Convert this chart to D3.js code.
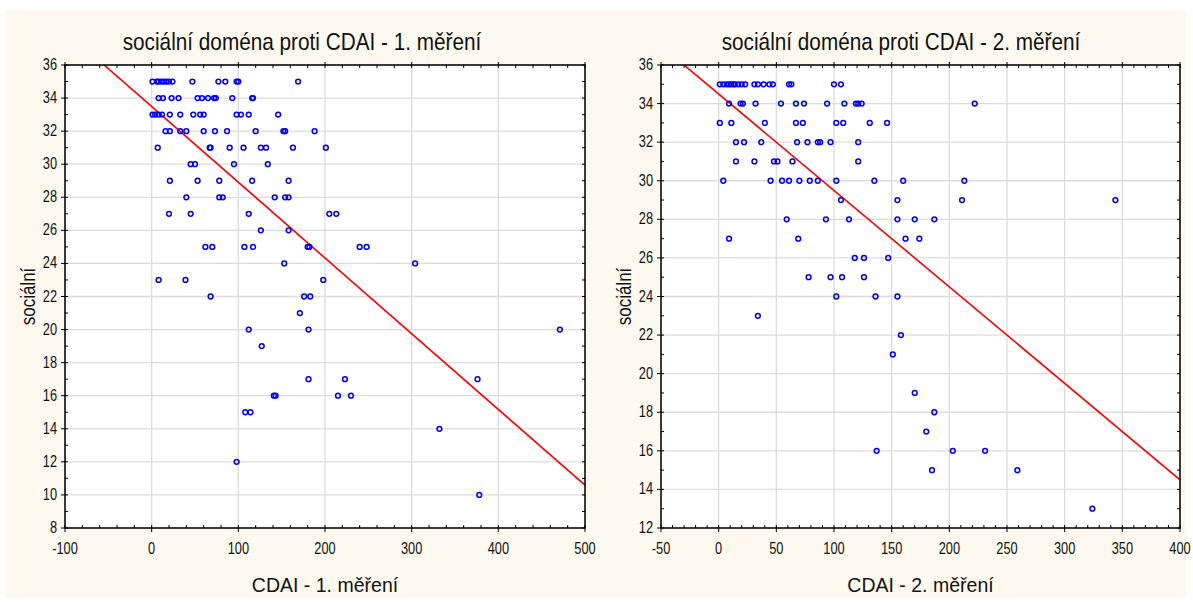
<!DOCTYPE html>
<html><head><meta charset="utf-8">
<script src="https://cdn.jsdelivr.net/npm/d3@7"></script>
<style>
body{margin:0;background:#fff;}
svg text{font-family:"Liberation Sans Narrow","Arial Narrow","Liberation Sans",Arial,sans-serif;fill:#111;}
</style></head><body>
<svg id="chart" width="1193" height="603"></svg>
<script>
// social domain score levels and the CDAI values observed at each level
const levels1 = [35,34,33,32,31,30,29,28,27,26,25,24,23,22,21,20,19,17,16,15,14,12,10];
const cdai1 = [
  [1,6,8,11,14,17,20,24,47,77,85,98,100,169],
  [8,13,23,31,53,58,65,72,74,93,116,117],
  [1,4,8,12,21,33,48,56,60,98,103,112,146],
  [16,21,33,40,60,73,87,120,152,154,188],
  [7,67,68,90,106,126,132,163,201],
  [45,50,95,134],
  [21,53,78,116,158],
  [40,78,82,142,154,158],
  [20,45,112,205,213],
  [126,158],
  [62,70,107,117,180,182,240,248],
  [153,304],
  [8,39,198],
  [68,176,183],
  [171],
  [112,181,471],
  [127],
  [181,223,376],
  [141,143,215,230],
  [108,114],
  [332],
  [98],
  [378]
];
const levels2 = [35,34,33,32,31,30,29,28,27,26,25,24,23,22,21,19,18,17,16,15,13];
const cdai2 = [
  [1,4,7,9,11,13,14,17,20,23,31,34,39,44,47,61,63,100,106],
  [9,19,21,32,54,67,74,94,109,119,121,124,222],
  [1,11,40,67,73,102,108,131,146],
  [15,22,37,68,77,86,88,97,121],
  [15,31,48,51,64,121],
  [4,45,55,61,70,79,86,102,135,160,213],
  [106,155,211,344],
  [59,93,113,155,170,187],
  [9,69,162,174],
  [118,126,147],
  [78,97,107,126],
  [102,136,155],
  [34],
  [158],
  [151],
  [170],
  [187],
  [180],
  [137,203,231],
  [185,259],
  [324]
];
// linear fit: [intercept, slope]
const fit1 = [33.49, -0.0458];
const fit2 = [34.5, -0.05];

const xTicks1 = [-100,0,100,200,300,400,500];
const yTicks1 = [8,10,12,14,16,18,20,22,24,26,28,30,32,34,36];
const xTicks2 = [-50,0,50,100,150,200,250,300,350,400];
const yTicks2 = [12,14,16,18,20,22,24,26,28,30,32,34,36];

const titles = ["sociální doména proti CDAI - 1. měření","sociální doména proti CDAI - 2. měření"];
const xTitles = ["CDAI - 1. měření","CDAI - 2. měření"];
const yTitle = "sociální";

const svg = d3.select("#chart");
svg.append("rect").attr("x",6).attr("y",10).attr("width",1181).attr("height",588).attr("fill","#fdf9ee");

function pairs(levels, groups){
  const out = [];
  groups.forEach((g,i)=>g.forEach(v=>out.push([v, levels[i]])));
  return out;
}

// condensed text: horizontal squeeze around the anchor point
function ctext(parent, x, y, str, size, sx, anchor, rot){
  const g = parent.append("g").attr("transform",`translate(${x},${y}) rotate(${rot||0}) scale(${sx},1)`);
  g.append("text").attr("text-anchor",anchor).attr("font-size",size).text(str);
  return g;
}

function panel(o){
  const g = svg.append("g");
  const x = d3.scaleLinear().domain(o.xd).range([o.x0,o.x1]);
  const y = d3.scaleLinear().domain(o.yd).range([o.y1,o.y0]);
  g.append("rect").attr("x",o.x0).attr("y",o.y0).attr("width",o.x1-o.x0).attr("height",o.y1-o.y0).attr("fill","#fff");
  // grid
  g.append("g").selectAll("line").data(o.xt).join("line")
    .attr("x1",d=>x(d)).attr("x2",d=>x(d)).attr("y1",o.y0).attr("y2",o.y1)
    .attr("stroke","#dcdcdc").attr("stroke-width",1.3);
  g.append("g").selectAll("line").data(o.yt).join("line")
    .attr("y1",d=>y(d)).attr("y2",d=>y(d)).attr("x1",o.x0).attr("x2",o.x1)
    .attr("stroke","#dcdcdc").attr("stroke-width",1.3);
  // minor ticks inside on all four sides
  const xm = d3.range(o.xd[0], o.xd[1]+0.001, o.xminor);
  const ym = d3.range(o.yd[0], o.yd[1]+0.001, 1);
  const tk = g.append("g").attr("stroke","#000").attr("stroke-width",1);
  xm.forEach(v=>{
    tk.append("line").attr("x1",x(v)).attr("x2",x(v)).attr("y1",o.y1).attr("y2",o.y1-3);
    tk.append("line").attr("x1",x(v)).attr("x2",x(v)).attr("y1",o.y0).attr("y2",o.y0+3);
  });
  ym.forEach(v=>{
    tk.append("line").attr("y1",y(v)).attr("y2",y(v)).attr("x1",o.x0).attr("x2",o.x0+3);
    tk.append("line").attr("y1",y(v)).attr("y2",y(v)).attr("x1",o.x1).attr("x2",o.x1-3);
  });
  // major ticks outside
  o.xt.forEach(v=>{
    tk.append("line").attr("x1",x(v)).attr("x2",x(v)).attr("y1",o.y1).attr("y2",o.y1+4);
    tk.append("line").attr("x1",x(v)).attr("x2",x(v)).attr("y1",o.y0).attr("y2",o.y0-3);
  });
  o.yt.forEach(v=>{
    tk.append("line").attr("y1",y(v)).attr("y2",y(v)).attr("x1",o.x0).attr("x2",o.x0-4);
  });
  // fit line
  const cid = "clip"+o.id;
  svg.append("clipPath").attr("id",cid).append("rect")
    .attr("x",o.x0).attr("y",o.y0).attr("width",o.x1-o.x0).attr("height",o.y1-o.y0);
  const line = d3.line().x(d=>x(d)).y(d=>y(o.fit[0]+o.fit[1]*d));
  g.append("path").attr("clip-path",`url(#${cid})`).datum(o.xd).attr("d",line)
    .attr("fill","none").attr("stroke","#ff0000").attr("stroke-width",1.6);
  // points
  g.append("g").selectAll("circle").data(o.pts).join("circle")
    .attr("cx",d=>x(d[0])).attr("cy",d=>y(d[1])).attr("r",2.4)
    .attr("fill","none").attr("stroke","#0000ff").attr("stroke-width",1.5);
  // frame
  g.append("rect").attr("x",o.x0).attr("y",o.y0).attr("width",o.x1-o.x0).attr("height",o.y1-o.y0)
    .attr("fill","none").attr("stroke","#000").attr("stroke-width",1.5);
  // tick labels
  o.xt.forEach(d=>ctext(g, x(d), o.y1+26, d, 16, 0.8, "middle"));
  o.yt.forEach(d=>ctext(g, o.x0-8, y(d)+5, d, 16, 0.8, "end"));
  // titles
  ctext(g, o.tx, 50, o.title, 24, 0.865, "middle");
  ctext(g, (o.x0+o.x1)/2, 592, o.xtitle, 21, 0.93, "middle");
  ctext(g, o.x0-30, (o.y0+o.y1)/2, yTitle, 20, 0.85, "middle", -90);
}

panel({id:1,x0:65,x1:585,y0:65,y1:528,xd:[-100,500],yd:[8,36],xt:xTicks1,yt:yTicks1,xminor:20,
  fit:fit1,pts:pairs(levels1,cdai1),title:titles[0],xtitle:xTitles[0],tx:302});
panel({id:2,x0:661,x1:1180,y0:65,y1:528,xd:[-50,400],yd:[12,36],xt:xTicks2,yt:yTicks2,xminor:10,
  fit:fit2,pts:pairs(levels2,cdai2),title:titles[1],xtitle:xTitles[1],tx:901});
</script>
</body></html>
